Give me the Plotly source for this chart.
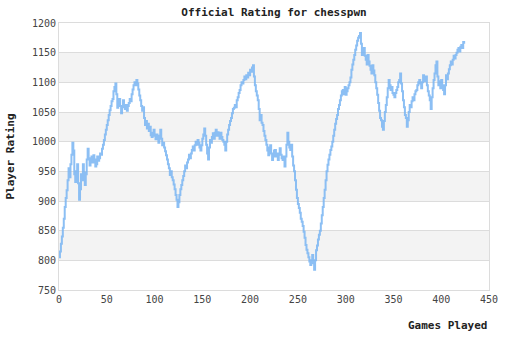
import plotly.graph_objects as go

ratings = [
    805, 815, 828, 840, 855, 870, 890, 905, 918, 935,
    955, 940, 962, 978, 998, 985, 945, 932, 950, 962,
    930, 902, 920, 945, 935, 962, 948, 927, 945, 970,
    988, 972, 960, 968, 975, 965, 977, 970, 958, 962,
    975, 968, 972, 980, 978, 988, 995, 1003, 1012, 1020,
    1028, 1036, 1045, 1053, 1060, 1068, 1072, 1085, 1092, 1098,
    1080, 1057, 1065, 1072, 1060, 1048, 1058, 1070, 1062, 1055,
    1062, 1052, 1060, 1065, 1072, 1068, 1080, 1088, 1095, 1100,
    1095, 1104, 1098, 1088, 1078, 1070, 1060, 1052, 1058, 1040,
    1028, 1035, 1022, 1030, 1018, 1025, 1011, 1008, 1015, 1020,
    1010, 1004, 1012, 1006, 998, 1010, 1020, 1005, 994, 998,
    990, 984, 977, 970, 962, 955, 944, 950, 940, 935,
    928, 920, 910, 902, 890, 898, 910, 920, 927, 935,
    942, 950, 960, 955, 965, 970, 978, 972, 980, 986,
    992, 985, 994, 1000, 995, 1003, 998, 990, 985, 994,
    1005, 1012, 1022, 1010, 995, 980, 970, 990, 1003, 998,
    1008, 1014, 1005, 1015, 1020, 1010, 1016, 1011, 1005, 1015,
    1008, 1003, 1000, 995, 985, 1000, 1012, 1020, 1028, 1035,
    1040, 1048, 1055, 1057, 1062, 1058, 1070, 1075, 1082, 1087,
    1095, 1100, 1098, 1104, 1110, 1105, 1112, 1108, 1116, 1112,
    1121, 1118, 1125, 1129, 1110, 1095, 1085, 1078, 1070, 1055,
    1036, 1045, 1032, 1028, 1018, 1010, 1003, 995, 985, 977,
    990, 994, 980, 969, 975, 985, 986, 975, 980, 969,
    980, 989, 978, 972, 969, 975, 958, 975, 995, 1015,
    1000, 990, 986, 995, 975, 960, 950, 935, 919, 905,
    895, 888, 880, 870, 865, 858, 848, 838, 826, 818,
    812, 805, 798, 792, 800, 809, 795, 784, 800, 817,
    825, 835, 843, 850, 862, 876, 890, 905, 919, 935,
    950, 961, 970, 978, 986, 992, 1000, 1010, 1020, 1030,
    1038, 1045, 1055, 1062, 1070, 1078, 1085, 1087, 1080, 1092,
    1079, 1085, 1090, 1095, 1100, 1108, 1121, 1130, 1138, 1146,
    1155, 1162, 1170, 1175, 1178, 1183, 1165, 1146, 1150, 1158,
    1145, 1138, 1130, 1146, 1135, 1128, 1121, 1115, 1129, 1120,
    1112, 1100, 1090, 1079, 1065, 1052, 1040, 1036, 1025, 1020,
    1035, 1050, 1062, 1075, 1090, 1104, 1095, 1087, 1092, 1082,
    1079, 1075, 1082, 1087, 1092, 1100, 1104, 1115, 1098, 1085,
    1070, 1058, 1045, 1040, 1025, 1036, 1050, 1062, 1058, 1068,
    1075, 1070, 1080, 1085, 1087, 1095, 1100, 1104, 1098, 1090,
    1100, 1112, 1107, 1102, 1110, 1095, 1085, 1078, 1070, 1055,
    1075, 1090, 1104, 1115, 1129, 1135, 1110, 1095, 1102, 1090,
    1104, 1095, 1087, 1080, 1095, 1112, 1105, 1115, 1122, 1129,
    1135, 1130, 1138, 1145, 1140, 1146, 1150, 1155, 1158, 1152,
    1160, 1163, 1158, 1168, 1165,
]
games = list(range(len(ratings)))

y_ticks = [750, 800, 850, 900, 950, 1000, 1050, 1100, 1150, 1200]
x_ticks = [0, 50, 100, 150, 200, 250, 300, 350, 400, 450]
band_pairs = [(800, 850), (900, 950), (1000, 1050), (1100, 1150)]

MONO = "DejaVu Sans Mono"

fig = go.Figure()
fig.add_trace(go.Scatter(
    x=games, y=ratings, mode="lines", line_shape="hv",
    line=dict(color="rgba(120,180,242,0.85)", width=2),
    hoverinfo="skip", showlegend=False,
))

shapes = []
for lo, hi in band_pairs:
    shapes.append(dict(type="rect", xref="paper", yref="y", x0=0, x1=1, y0=lo, y1=hi,
                       fillcolor="#f3f3f3", line=dict(width=0), layer="below"))

fig.update_layout(
    width=510, height=340,
    margin=dict(l=59, r=21, t=23, b=50),
    paper_bgcolor="white", plot_bgcolor="white",
    shapes=shapes,
    title=dict(text="<b>Official Rating for chesspwn</b>", x=274/510, xanchor="center",
               y=1 - 12/340, yanchor="middle",
               font=dict(family=MONO, size=11, color="#222")),
    xaxis=dict(range=[0, 450], tickvals=x_ticks, showgrid=False, zeroline=False,
               showline=True, linecolor="#dcdcdc", linewidth=1, mirror=True,
               ticks="", tickfont=dict(family=MONO, size=10, color="#444")),
    yaxis=dict(range=[750, 1200], tickvals=y_ticks, showgrid=True, gridcolor="#dcdcdc",
               gridwidth=1, zeroline=False, showline=True, linecolor="#dcdcdc",
               linewidth=1, mirror=True, ticks="",
               tickfont=dict(family=MONO, size=10, color="#444")),
    annotations=[
        dict(text="<b>Games Played</b>", xref="paper", yref="paper", x=1, y=-36/267,
             xanchor="right", yanchor="middle", showarrow=False,
             font=dict(family=MONO, size=11, color="#222")),
        dict(text="<b>Player Rating</b>", xref="paper", yref="paper", x=-49/430, y=0.5,
             xanchor="center", yanchor="middle", textangle=-90, showarrow=False,
             font=dict(family=MONO, size=11, color="#222")),
    ],
)

fig.write_html("out.html")
